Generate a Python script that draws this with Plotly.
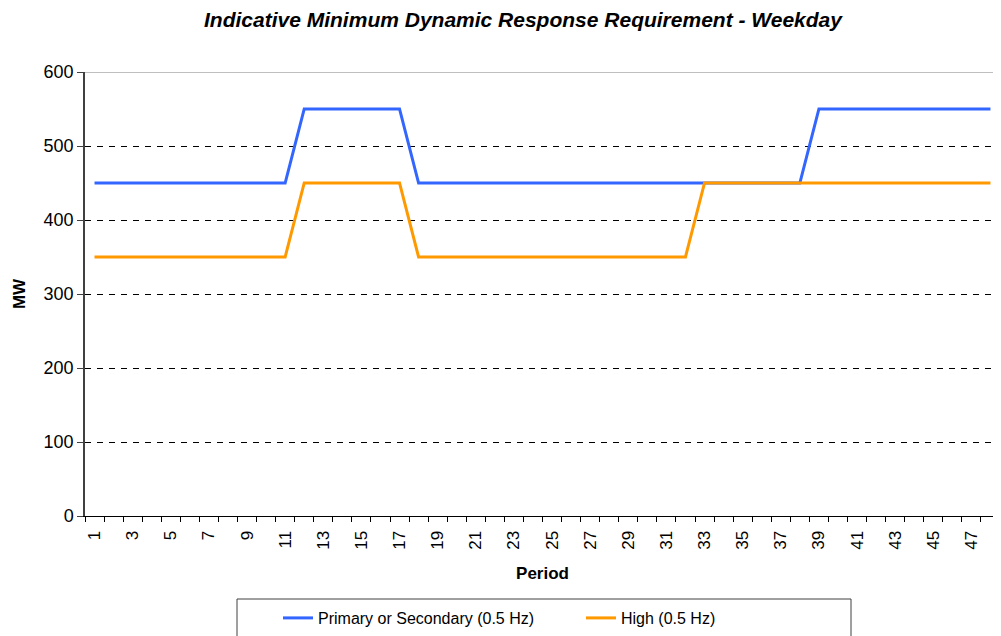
import plotly.graph_objects as go

periods = list(range(1, 49))
primary = [450]*11 + [550]*6 + [450]*21 + [550]*10
high = [350]*11 + [450]*6 + [350]*15 + [450]*16
tick_periods = list(range(1, 48, 2))
tick_labels = [str(p) for p in tick_periods]
y_ticks = [0, 100, 200, 300, 400, 500, 600]

FONT = "Liberation Sans, Arial, sans-serif"

fig = go.Figure()
fig.add_trace(go.Scatter(x=periods, y=primary, mode="lines", name="Primary or Secondary (0.5 Hz)",
                         line=dict(color="#3366FF", width=3)))
fig.add_trace(go.Scatter(x=periods, y=high, mode="lines", name="High (0.5 Hz)",
                         line=dict(color="#FF9900", width=3)))

# page offset (default body margin of the html page)
OX, OY = 8, 8
W, H = 993, 628
L, T = 85 - OX, 72 - OY
R = W - (1000 - OX)
B = H - (516 - OY)
pw = W - L - R
ph = H - T - B

def px_x(x):
    return (x - OX - L) / pw

def px_y(y):
    return (H - B - (y - OY)) / ph

fig.update_layout(
    width=W, height=H,
    margin=dict(l=L, r=R, t=T, b=B, autoexpand=False),
    paper_bgcolor="white", plot_bgcolor="white",
    font=dict(family=FONT, color="black"),
    title=dict(text="<b><i>Indicative Minimum Dynamic Response Requirement - Weekday</i></b>",
               x=(523 - OX)/W, xanchor="center", xref="container",
               y=1 - 4/H, yanchor="top", yref="container",
               font=dict(size=21, family=FONT)),
    showlegend=True,
    legend=dict(orientation="h", x=px_x(278), xanchor="left", y=px_y(618), yanchor="middle",
                xref="paper", yref="paper",
                bgcolor="rgba(0,0,0,0)", borderwidth=0,
                font=dict(size=16, family=FONT),
                entrywidth=258, traceorder="normal"),
    xaxis=dict(range=[0.5, 48.5], tickmode="array", tickvals=tick_periods, ticktext=tick_labels,
               tickangle=-90, ticks="", showgrid=False, zeroline=False, automargin=False,
               showline=True, linecolor="black", linewidth=1, ticklabelstandoff=7,
               tickfont=dict(size=17, family=FONT),
               minor=dict(tickmode="array", tickvals=[i + 0.5 for i in range(0, 49)],
                          ticks="outside", ticklen=5, tickcolor="black", showgrid=False),
               title=dict(text="<b>Period</b>", font=dict(size=17, family=FONT), standoff=18)),
    yaxis=dict(range=[0, 600], tickmode="array", tickvals=y_ticks, automargin=False,
               ticks="outside", ticklen=6, tickcolor="#404040",
               showgrid=True, gridcolor="black", gridwidth=1, griddash="6px,6px",
               zeroline=False, showline=True, linecolor="#404040", linewidth=1.5,
               tickfont=dict(size=18, family=FONT),
               title=dict(text="<b>MW</b>", font=dict(size=17, family=FONT), standoff=14)),
)

# top border line at 600 (solid grey)
fig.add_shape(type="line", xref="paper", yref="y", x0=0, x1=1, y0=600, y1=600,
              line=dict(color="#808080", width=1))
# legend box
fig.add_shape(type="rect", xref="paper", yref="paper",
              x0=px_x(237), x1=px_x(851), y0=px_y(645), y1=px_y(599),
              line=dict(color="#404040", width=1), fillcolor="rgba(0,0,0,0)", layer="below")

fig.write_html("out.html")
